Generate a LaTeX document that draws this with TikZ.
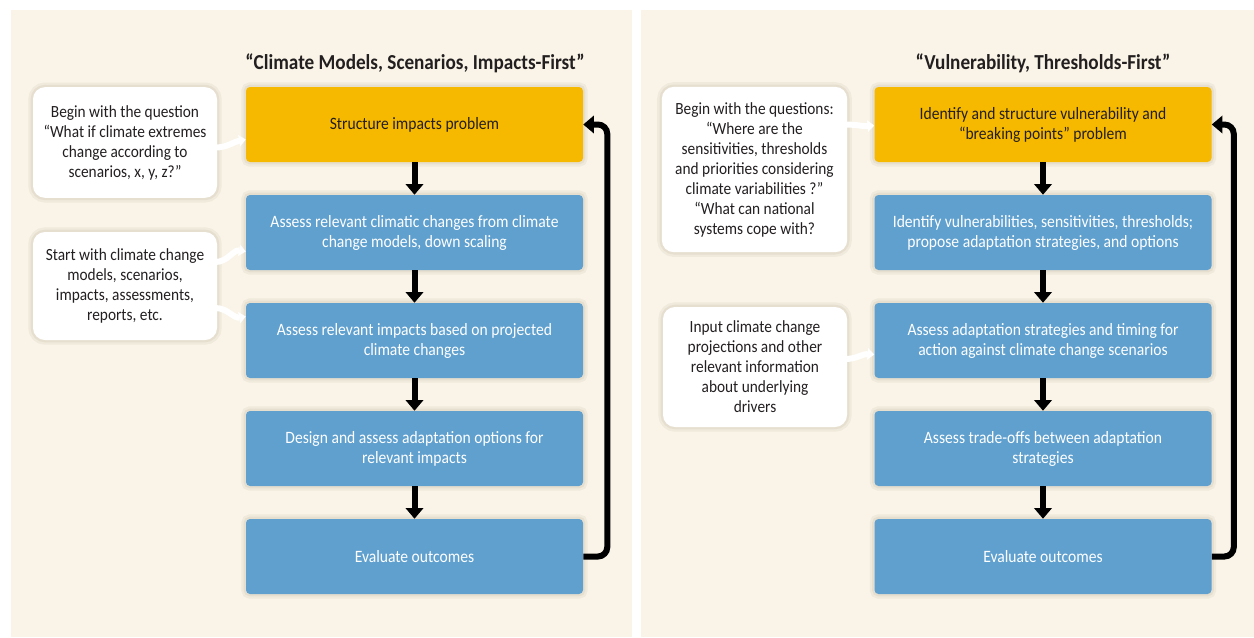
\documentclass[tikz,border=0pt]{standalone}
\usepackage{fontspec}
\setmainfont{Carlito}[FakeStretch=0.9]
\usetikzlibrary{arrows.meta,calc}
\definecolor{panel}{RGB}{249,244,231}
\definecolor{orangebox}{RGB}{246,185,0}
\definecolor{bluebox}{RGB}{95,160,207}
\definecolor{ink}{RGB}{35,31,32}
\begin{document}
\begin{tikzpicture}[x=0.75pt,y=-0.75pt,
  glow/.style={preaction={draw=black!60!brown, draw opacity=0.05, line width=7pt},
               preaction={draw=black!60!brown, draw opacity=0.06, line width=3.5pt}},
  stage/.style={glow, rounded corners=3pt, minimum width=252.75pt, minimum height=56.25pt, inner sep=0pt, align=center, font=\fontsize{13}{15}\selectfont},
  firststage/.style={stage, fill=orangebox, text=ink},
  laterstage/.style={stage, fill=bluebox, text=white},
  callout/.style={glow, fill=white, rounded corners=9pt, inner sep=0pt, align=center, text=ink, font=\fontsize{12.8}{15}\selectfont},
  heading/.style={font=\fontsize{16}{18}\selectfont\bfseries, text=ink},
  flow/.style={draw=black, line width=4.5pt, -{Triangle[width=13pt,length=8pt]}},
  feedback/.style={draw=black, line width=4.5pt, rounded corners=7pt, -{Triangle[width=13pt,length=8pt]}},
  tail/.style={draw=white, line width=4.5pt, -{Triangle[width=8.5pt,length=5pt]}}
]
\useasboundingbox[fill=white] (0,0) rectangle (1254,637);
\fill[panel] (11,10) rectangle (632,637);
\fill[panel] (641,10) rectangle (1254,637);

% headings
\node[heading] (LT) at (415,63) {“Climate Models, Scenarios, Impacts-First”};
\node[heading] (RT) at (1043,63) {“Vulnerability, Thresholds-First”};

% left column
\node[firststage] (L1) at (414.5,124.5) {Structure impacts problem};
\node[laterstage] (L2) at (414.5,232.5) {Assess relevant climatic changes from climate\\change models, down scaling};
\node[laterstage] (L3) at (414.5,340.5) {Assess relevant impacts based on projected\\climate changes};
\node[laterstage] (L4) at (414.5,448.5) {Design and assess adaptation options for\\relevant impacts};
\node[laterstage] (L5) at (414.5,556.5) {Evaluate outcomes};

% right column
\node[firststage] (R1) at (1043,124.5) {Identify and structure vulnerability and\\“breaking points” problem};
\node[laterstage] (R2) at (1043,232.5) {Identify vulnerabilities, sensitivities, thresholds;\\propose adaptation strategies, and options};
\node[laterstage] (R3) at (1043,340.5) {Assess adaptation strategies and timing for\\action against climate change scenarios};
\node[laterstage] (R4) at (1043,448.5) {Assess trade-offs between adaptation\\strategies};
\node[laterstage] (R5) at (1043,556.5) {Evaluate outcomes};

% callouts
\node[callout, minimum width=138pt, minimum height=83pt] (LC1) at (125,142.5) {Begin with the question\\“What if climate extremes\\change according to\\scenarios, x, y, z?”};
\node[callout, minimum width=138pt, minimum height=81pt] (LC2) at (125,286) {Start with climate change\\models, scenarios,\\impacts, assessments,\\reports, etc.};
\node[callout, minimum width=139pt, minimum height=124pt] (RC1) at (754.5,169.5) {Begin with the questions:\\“Where are the\\sensitivities, thresholds\\and priorities considering\\climate variabilities ?”\\“What can national\\systems cope with?};
\node[callout, minimum width=138pt, minimum height=90pt] (RC2) at (755,367) {Input climate change\\projections and other\\relevant information\\about underlying\\drivers};

% callout tails
\draw[tail] ($(LC1.east)+(-2,5)$) to[out=0,in=190] ($(L1.west)+(0,15)$);
\draw[tail] ($(LC2.east)+(-2,-24)$) to[out=0,in=170] ($(L2.west)+(0,19)$);
\draw[tail] ($(LC2.east)+(-2,22)$) to[out=0,in=190] ($(L3.west)+(0,-24)$);
\draw[tail] ($(RC1.east)+(-2,-45)$) to[out=0,in=185] ($(R1.west)+(0,1)$);
\draw[tail] ($(RC2.east)+(-2,-8)$) to[out=0,in=175] ($(R3.west)+(0,14)$);

% flow arrows
\draw[flow] (L1) -- (L2);
\draw[flow] (L2) -- (L3);
\draw[flow] (L3) -- (L4);
\draw[flow] (L4) -- (L5);
\draw[flow] (R1) -- (R2);
\draw[flow] (R2) -- (R3);
\draw[flow] (R3) -- (R4);
\draw[flow] (R4) -- (R5);

% feedback loops
\draw[feedback] (L5.east) -- ++(24,0) |- (L1.east);
\draw[feedback] (R5.east) -- ++(22,0) |- (R1.east);
\end{tikzpicture}
\end{document}
